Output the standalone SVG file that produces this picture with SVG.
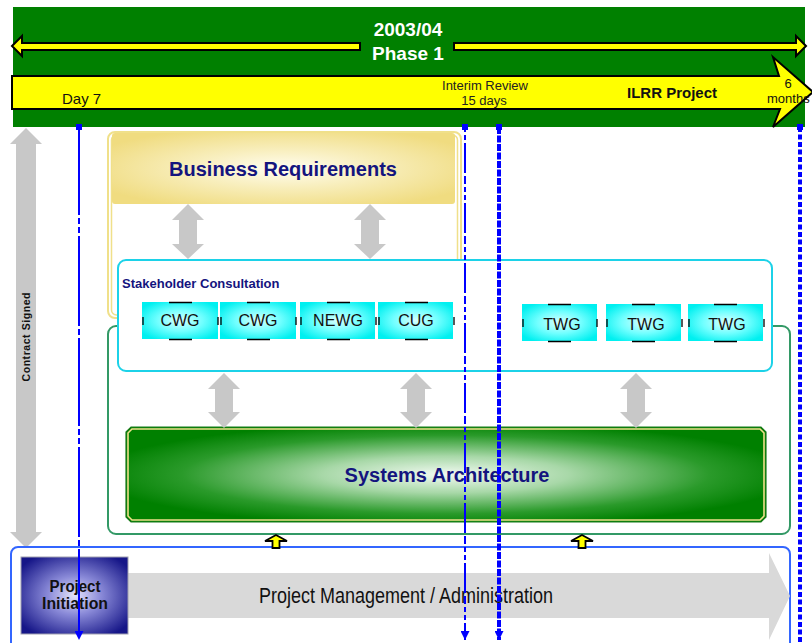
<svg xmlns="http://www.w3.org/2000/svg" width="812" height="643" viewBox="0 0 812 643">
<defs>
<style>
.sans{font-family:"Liberation Sans",Arial,sans-serif}
.narrow{font-family:"Liberation Sans Narrow","Liberation Sans",Arial,sans-serif}
.navy{fill:#14147e;font-weight:bold}
.gray{fill:#c8c8c8}
.wg{stroke:none}
.tick{stroke:#000;stroke-width:1.3}
.vline{fill:none;stroke:#0000ff}
</style>
<radialGradient id="gBR" cx="0.5" cy="0.5" r="0.6">
<stop offset="0" stop-color="#fffdf0"/>
<stop offset="0.45" stop-color="#f8eebc"/>
<stop offset="1" stop-color="#f0dc80"/>
</radialGradient>
<radialGradient id="gSA" cx="0.5" cy="0.5" r="0.55">
<stop offset="0" stop-color="#f2faf2"/>
<stop offset="0.35" stop-color="#a8d8a8"/>
<stop offset="0.75" stop-color="#2a9a2a"/>
<stop offset="1" stop-color="#008000"/>
</radialGradient>
<radialGradient id="gWG" cx="0.5" cy="0.5" r="0.6">
<stop offset="0" stop-color="#d8ffff"/>
<stop offset="0.5" stop-color="#70ffff"/>
<stop offset="1" stop-color="#00f0f0"/>
</radialGradient>
<radialGradient id="gPI" cx="0.5" cy="0.5" r="0.62">
<stop offset="0" stop-color="#e4e4fa"/>
<stop offset="0.4" stop-color="#8a8ad8"/>
<stop offset="1" stop-color="#161688"/>
</radialGradient>
<marker id="dot" viewBox="0 0 8 8" refX="4" refY="4" markerWidth="8" markerHeight="8" markerUnits="userSpaceOnUse">
<rect x="1" y="1" width="6" height="6" fill="#0000ff"/>
</marker>
<marker id="arr" viewBox="0 0 10 10" refX="10" refY="5" markerWidth="9" markerHeight="9" markerUnits="userSpaceOnUse" orient="auto">
<path d="M0,0 L10,5 L0,10 Z" fill="#0000ff"/>
</marker>
</defs>

<g id="header">
<rect x="13" y="7" width="792" height="120" fill="#008000"/>
<polygon points="12,46 22,36 22,43 360,43 360,50 22,50 22,56" fill="#ffff00" stroke="#000" stroke-width="2" stroke-linejoin="miter"/>
<polygon points="806,46 796,36 796,43 454,43 454,50 796,50 796,56" fill="#ffff00" stroke="#000" stroke-width="2"/>
<text class="sans" x="408" y="36" font-size="19" font-weight="bold" fill="#fff" text-anchor="middle">2003/04</text>
<text class="sans" x="408" y="60" font-size="19" font-weight="bold" fill="#fff" text-anchor="middle">Phase 1</text>
<polygon points="12,76 779,76 773,57 813,92 773,127 780,109 12,109" fill="#ffff00" stroke="#000" stroke-width="2"/>
<text class="sans" x="62" y="104" font-size="15" fill="#111">Day 7</text>
<text class="sans" x="485" y="90" font-size="13" fill="#222" text-anchor="middle">Interim Review</text>
<text class="sans" x="484" y="105" font-size="13" fill="#222" text-anchor="middle">15 days</text>
<text class="sans" x="672" y="98" font-size="15" font-weight="bold" fill="#111" text-anchor="middle">ILRR Project</text>
<text class="sans" x="788" y="88" font-size="13" fill="#111" text-anchor="middle">6</text>
<text class="sans" x="767" y="103" font-size="13" fill="#111">months</text>
</g>

<g id="contract-signed">
<path class="gray" d="M26,128 L42,144 L36,144 L36,532 L42,532 L26,548 L10,532 L16,532 L16,144 L10,144 Z"/>
<text class="sans" transform="translate(30,337) rotate(-90)" font-size="10.5" font-weight="bold" fill="#111" text-anchor="middle" textLength="89" lengthAdjust="spacing">Contract Signed</text>
</g>

<g id="systems-container">
<rect x="108" y="326" width="682" height="208" rx="8" fill="none" stroke="#339966" stroke-width="2"/>
</g>

<g id="business-container">
<rect x="108" y="132" width="353" height="186" rx="7" fill="none" stroke="#f0e08a" stroke-width="2"/>
<rect x="111.5" y="135" width="346" height="180" rx="5" fill="none" stroke="#f0e08a" stroke-width="1.5"/>
</g>

<g id="business-requirements">
<rect x="112" y="133" width="343" height="71" rx="3" fill="url(#gBR)"/>
<text class="sans navy" x="283" y="176" font-size="20" text-anchor="middle">Business Requirements</text>
</g>

<g id="stakeholder-consultation">
<rect x="118" y="260" width="654" height="111" rx="8" fill="#fff" stroke="#1cd2e8" stroke-width="2"/>
<text class="sans navy" x="122" y="288" font-size="13">Stakeholder Consultation</text>
</g>

<g id="wg-boxes">
<g id="cwg1">
<rect class="wg" x="142" y="302" width="76" height="37" fill="url(#gWG)"/>
<text class="sans" x="180" y="326" font-size="16" fill="#111" text-anchor="middle">CWG</text>
</g>
<g id="cwg2">
<rect class="wg" x="220" y="302" width="76" height="37" fill="url(#gWG)"/>
<text class="sans" x="258" y="326" font-size="16" fill="#111" text-anchor="middle">CWG</text>
</g>
<g id="newg">
<rect class="wg" x="300" y="302" width="75" height="37" fill="url(#gWG)"/>
<text class="sans" x="338" y="326" font-size="16" fill="#111" text-anchor="middle">NEWG</text>
</g>
<g id="cug">
<rect class="wg" x="378" y="302" width="75" height="37" fill="url(#gWG)"/>
<text class="sans" x="416" y="326" font-size="16" fill="#111" text-anchor="middle">CUG</text>
</g>
<g id="twg1">
<rect class="wg" x="522" y="304" width="75" height="37" fill="url(#gWG)"/>
<text class="sans" x="562" y="330" font-size="16" fill="#111" text-anchor="middle">TWG</text>
</g>
<g id="twg2">
<rect class="wg" x="606" y="304" width="75" height="37" fill="url(#gWG)"/>
<text class="sans" x="646" y="330" font-size="16" fill="#111" text-anchor="middle">TWG</text>
</g>
<g id="twg3">
<rect class="wg" x="688" y="304" width="75" height="37" fill="url(#gWG)"/>
<text class="sans" x="727" y="330" font-size="16" fill="#111" text-anchor="middle">TWG</text>
</g>
<path class="tick" d="M169,302.5h23M169,339.5h23M143,317v8M218,317v8
M247,302.5h23M247,339.5h23M221,317v8M296,317v8
M327,302.5h23M327,339.5h23M301,317v8M376,317v8
M405,302.5h23M405,339.5h23M379,317v8M454,317v8
M548,304.5h23M548,341.5h23M523,319v8M597,319v8
M632,304.5h23M632,341.5h23M607,319v8M682,319v8
M714,304.5h23M714,341.5h23M689,319v8M764,319v8"/>
</g>

<g id="systems-architecture">
<path d="M131,427 H761 L766,432 V517 L761,522 H131 L126,517 V432 Z" fill="url(#gSA)" stroke="#1a7a1a" stroke-width="1.2"/>
<path d="M132,429 H760 L764,433 V516 L760,520 H132 L128,516 V433 Z" fill="none" stroke="#f0e08a" stroke-width="1.6"/>
<text class="sans navy" x="447" y="482" font-size="20" text-anchor="middle">Systems Architecture</text>
</g>

<g id="project-management">
<rect x="11" y="547" width="779" height="110" rx="7" fill="none" stroke="#3366ff" stroke-width="2"/>
<polygon points="120,573 769,573 769,553 790,596 769,640 769,618 120,618" fill="#d9d9d9"/>
<text class="narrow" x="406" y="603" font-size="22" fill="#111" text-anchor="middle" textLength="294" lengthAdjust="spacingAndGlyphs">Project Management / Administration</text>
</g>

<g id="project-initiation">
<rect x="21" y="557" width="107" height="77" fill="url(#gPI)" stroke="#a0a0b0" stroke-width="1"/>
<text class="narrow" x="75" y="592" font-size="16" font-weight="bold" fill="#111" text-anchor="middle" textLength="51" lengthAdjust="spacingAndGlyphs">Project</text>
<text class="narrow" x="75" y="609" font-size="16" font-weight="bold" fill="#111" text-anchor="middle" textLength="66" lengthAdjust="spacingAndGlyphs">Initiation</text>
</g>

<g id="connectors">
<path class="gray" d="M188,204 L204,220 L197,220 L197,244 L204,244 L188,259 L172,244 L179,244 L179,220 L172,220 Z"/>
<path class="gray" d="M370,204 L386,220 L379,220 L379,244 L386,244 L370,259 L354,244 L361,244 L361,220 L354,220 Z"/>
<path class="gray" d="M224,373 L240,389 L233,389 L233,412 L240,412 L224,428 L208,412 L215,412 L215,389 L208,389 Z"/>
<path class="gray" d="M416,373 L432,389 L425,389 L425,412 L432,412 L416,428 L400,412 L407,412 L407,389 L400,389 Z"/>
<path class="gray" d="M636,373 L652,389 L645,389 L645,412 L652,412 L636,428 L620,412 L627,412 L627,389 L620,389 Z"/>
<path d="M276,535 L287,541 L279.5,541 L279.5,548 L272.5,548 L272.5,541 L265,541 Z" fill="#ffff00" stroke="#000" stroke-width="1.8" stroke-linejoin="miter"/>
<path d="M582,535 L593,541 L585.5,541 L585.5,548 L578.5,548 L578.5,541 L571,541 Z" fill="#ffff00" stroke="#000" stroke-width="1.8" stroke-linejoin="miter"/>
<line class="vline" x1="79" y1="127" x2="79" y2="640" stroke-width="2" stroke-dasharray="88 3 6 3 6 3 90 3 6 3" marker-start="url(#dot)" marker-end="url(#arr)"/>
<line class="vline" x1="465" y1="127" x2="465" y2="640" stroke-width="2" stroke-dasharray="5 3 5 3 30 3 8 3" marker-start="url(#dot)" marker-end="url(#arr)"/>
<line class="vline" x1="499" y1="127" x2="499" y2="640" stroke-width="4" stroke-dasharray="7 1.5" marker-start="url(#dot)" marker-end="url(#arr)"/>
<line class="vline" x1="800" y1="127" x2="800" y2="643" stroke-width="4" stroke-dasharray="5 2.5" marker-start="url(#dot)"/>
</g>
</svg>
